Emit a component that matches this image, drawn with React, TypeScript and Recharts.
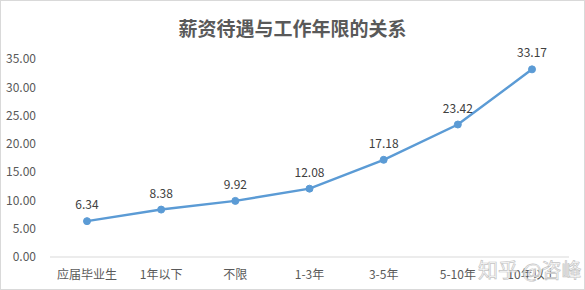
import React from 'react';
import { LineChart, Line, XAxis, YAxis, LabelList } from 'recharts';

// Categories (work experience) and average salary values
const categories = ['应届毕业生', '1年以下', '不限', '1-3年', '3-5年', '5-10年', '10年以上'];
const salaries = [6.34, 8.38, 9.92, 12.08, 17.18, 23.42, 33.17];
const yTicks = [0, 5, 10, 15, 20, 25, 30, 35];

const data = categories.map((name, i) => ({ name, value: salaries[i] }));

const FONT = '"Microsoft YaHei", "Noto Sans CJK SC", "Noto Sans", sans-serif';

const App: React.FC = () => {
  return (
    <div
      style={{
        position: 'absolute',
        left: 0,
        top: 0,
        width: 585,
        height: 290,
        border: '1px solid #d9d9d9',
        boxSizing: 'border-box',
        background: '#fff',
        fontFamily: FONT,
      }}
    >
      <div
        style={{
          position: 'absolute',
          top: 15,
          left: 0,
          width: '100%',
          textAlign: 'center',
          fontSize: 19,
          fontWeight: 'bold',
          color: '#595959',
          lineHeight: '24px',
        }}
      >
        薪资待遇与工作年限的关系
      </div>
      <div style={{ position: 'absolute', left: -1, top: -1 }}>
        <LineChart
          width={585}
          height={290}
          data={data}
          margin={{ top: 59, right: 16, left: 0, bottom: 3 }}
        >
          <XAxis
            dataKey="name"
            axisLine={{ stroke: '#d9d9d9' }}
            tickLine={false}
            tick={{ fontSize: 12, fill: '#595959', fontFamily: FONT }}
            tickMargin={7}
            interval={0}
            height={30}
            padding={{ left: 37, right: 37 }}
          />
          <YAxis
            domain={[0, 35]}
            ticks={yTicks}
            axisLine={false}
            tickLine={false}
            width={50}
            tickMargin={8}
            tick={{ fontSize: 12, fill: '#595959', fontFamily: FONT }}
            tickFormatter={(v: number) => v.toFixed(2)}
          />
          <Line
            type="linear"
            dataKey="value"
            stroke="#5b9bd5"
            strokeWidth={2.5}
            dot={{ r: 3.5, fill: '#5b9bd5', stroke: '#5b9bd5', strokeWidth: 1 }}
            activeDot={false}
            isAnimationActive={false}
          >
            <LabelList
              dataKey="value"
              position="top"
              offset={12}
              formatter={(v: number) => v.toFixed(2)}
              style={{ fontSize: 12, fill: '#404040', fontFamily: FONT }}
            />
          </Line>
        </LineChart>
      </div>
      <div
        style={{
          position: 'absolute',
          left: 477,
          top: 254,
          fontSize: 20,
          color: 'rgba(255,255,255,0.7)',
          WebkitTextStroke: '0.7px #c4c4c4',
          letterSpacing: 0,
          whiteSpace: 'nowrap',
        }}
      >
        知乎 @咨峰
      </div>
    </div>
  );
};

export default App;
